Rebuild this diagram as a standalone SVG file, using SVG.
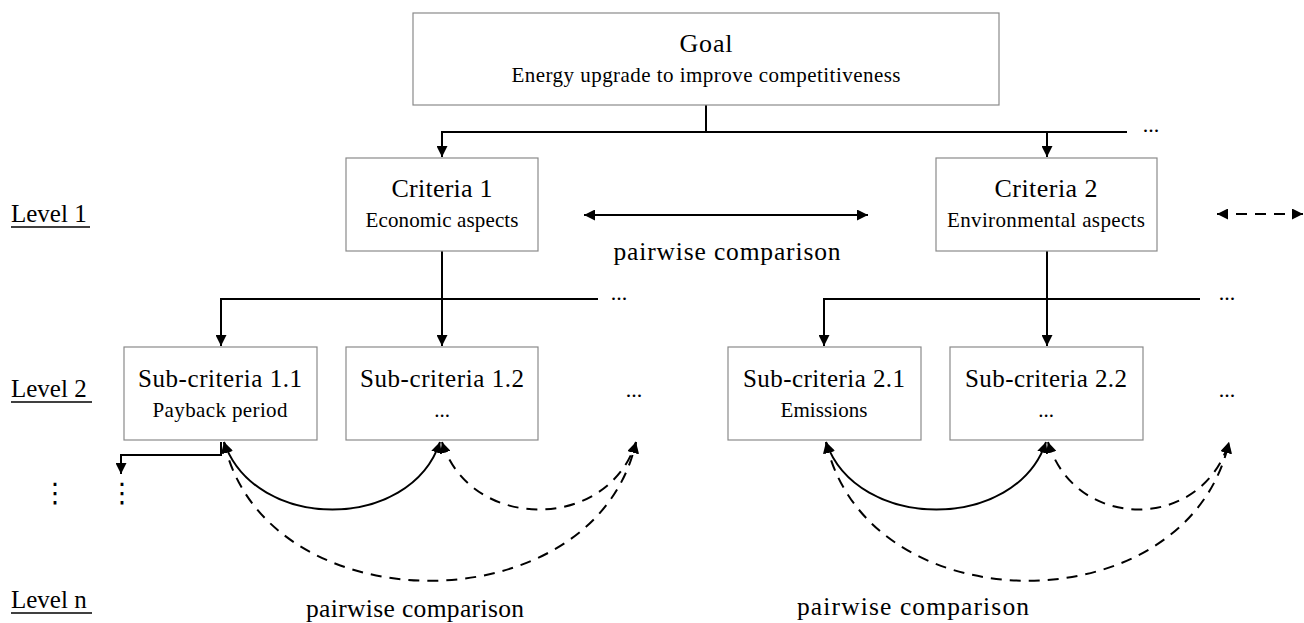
<svg xmlns="http://www.w3.org/2000/svg" width="1304" height="623" viewBox="0 0 1304 623">
<style>
.box{fill:#fff;stroke:#8a8a8a;stroke-width:1.2}
.t{font-family:"Liberation Serif","Times New Roman",serif;fill:#000;text-anchor:middle}
.tl{font-size:26px}
.tm{font-size:25px}
.ts{font-size:21px}
.pc{font-size:25.5px}
.el{font-size:22px}
.lv{font-family:"Liberation Serif","Times New Roman",serif;font-size:25px;fill:#000}
.ul{stroke:#000;stroke-width:1.3}
.c{fill:none;stroke:#000;stroke-width:2}
.d{stroke-dasharray:11 8}
.dots{font-family:"DejaVu Sans",sans-serif;font-size:27px;fill:#000;text-anchor:middle}
</style>
<defs>
<marker id="ah" viewBox="0 0 10 10" refX="10" refY="5" markerWidth="11" markerHeight="11" orient="auto-start-reverse" markerUnits="userSpaceOnUse">
<path d="M0,0 L10,5 L0,10 z" fill="#000"/>
</marker>
</defs>

<g id="connectors">
<path class="c" d="M706,105 V132"/>
<path class="c" d="M442,157 V132 H1127" marker-start="url(#ah)"/>
<path class="c" d="M1047,132 V157" marker-end="url(#ah)"/>
<path class="c" d="M584,215 H868" marker-start="url(#ah)" marker-end="url(#ah)"/>
<path class="c d" d="M1217,214 H1303" marker-start="url(#ah)" marker-end="url(#ah)"/>
<path class="c" d="M442,251 V346" marker-end="url(#ah)"/>
<path class="c" d="M221,346 V299 H598" marker-start="url(#ah)"/>
<path class="c" d="M1047,251 V346" marker-end="url(#ah)"/>
<path class="c" d="M824,346 V299 H1200" marker-start="url(#ah)"/>
<path class="c" d="M221,442 V455 H121 V474" marker-end="url(#ah)"/>
<path class="c" d="M224,442 C255,532 410,532 440,442" marker-start="url(#ah)" marker-end="url(#ah)"/>
<path class="c d" d="M442,442 C470,532 608,532 636,442" marker-start="url(#ah)" marker-end="url(#ah)"/>
<path class="c d" d="M224,442 C265,627 595,627 636,442" marker-start="url(#ah)" marker-end="url(#ah)"/>
<path class="c" d="M826,442 C857,532 1016,532 1046,442" marker-start="url(#ah)" marker-end="url(#ah)"/>
<path class="c d" d="M1048,442 C1075,532 1202,532 1229,442" marker-start="url(#ah)" marker-end="url(#ah)"/>
<path class="c d" d="M826,442 C867,627 1188,627 1229,442" marker-start="url(#ah)" marker-end="url(#ah)"/>
</g>

<g id="goal">
<rect class="box" x="413" y="13" width="586" height="92"/>
<text class="t tl" x="706" y="52" textLength="53">Goal</text>
<text class="t ts" x="706" y="82" textLength="389">Energy upgrade to improve competitiveness</text>
</g>
<g id="criteria1">
<rect class="box" x="346" y="158" width="192" height="93"/>
<text class="t tl" x="442" y="197" textLength="101">Criteria 1</text>
<text class="t ts" x="442" y="227" textLength="153">Economic aspects</text>
</g>
<g id="criteria2">
<rect class="box" x="936" y="158" width="221" height="93"/>
<text class="t tl" x="1046" y="197" textLength="103">Criteria 2</text>
<text class="t ts" x="1046" y="227" textLength="198">Environmental aspects</text>
</g>
<g id="sub11">
<rect class="box" x="124" y="347" width="193" height="93"/>
<text class="t tm" x="220" y="387" textLength="164">Sub-criteria 1.1</text>
<text class="t ts" x="220" y="417" textLength="135">Payback period</text>
</g>
<g id="sub12">
<rect class="box" x="346" y="347" width="192" height="93"/>
<text class="t tm" x="442" y="387" textLength="164">Sub-criteria 1.2</text>
<text class="t ts" x="442" y="417">...</text>
</g>
<g id="sub21">
<rect class="box" x="728" y="347" width="193" height="93"/>
<text class="t tm" x="824" y="387" textLength="162">Sub-criteria 2.1</text>
<text class="t ts" x="824" y="417" textLength="87">Emissions</text>
</g>
<g id="sub22">
<rect class="box" x="950" y="347" width="193" height="93"/>
<text class="t tm" x="1046" y="387" textLength="162">Sub-criteria 2.2</text>
<text class="t ts" x="1046" y="417">...</text>
</g>

<g id="labels">
<text class="t el" x="1151" y="132">...</text>
<text class="t el" x="619" y="300">...</text>
<text class="t el" x="1227" y="300">...</text>
<text class="t el" x="634" y="397">...</text>
<text class="t el" x="1227" y="397">...</text>
<text class="t pc" x="727" y="260" textLength="227">pairwise comparison</text>
<text class="t pc" x="415" y="617" textLength="218">pairwise comparison</text>
<text class="t pc" x="913" y="615" textLength="232">pairwise comparison</text>
<text class="dots" x="122" y="502">⋮</text>
<text class="dots" x="55" y="502">⋮</text>
</g>

<g id="levels">
<text class="lv" x="11" y="222">Level 1</text>
<line class="ul" x1="11" y1="227" x2="90" y2="227"/>
<text class="lv" x="11" y="397">Level 2</text>
<line class="ul" x1="11" y1="402" x2="92" y2="402"/>
<text class="lv" x="11" y="608">Level n</text>
<line class="ul" x1="11" y1="613" x2="92" y2="613"/>
</g>
</svg>
